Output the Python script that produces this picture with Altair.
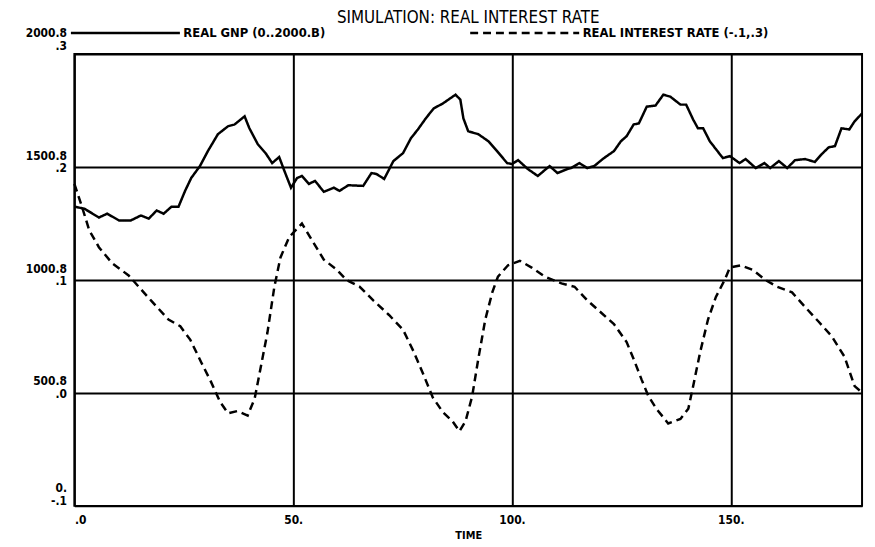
import altair as alt
import pandas as pd

# ---- data ----
gnp_time = [0, 2.3, 5.6, 7.5, 10.2, 12.9, 15.2, 17, 18.8, 20.4, 22.2, 23.8, 25.3, 26.7, 28.7, 30.5,
            32.8, 35.1, 36.6, 38.9, 40, 41.9, 43.7, 45.2, 46.8, 48, 49.5, 50.9, 52, 53.6, 55, 57,
            59.3, 60.6, 62.6, 66, 67.9, 69, 70.8, 72.9, 75.1, 76.9, 78.5, 80.3, 82.1, 84.2, 87.1,
            88.2, 88.9, 90, 92.3, 94.6, 96.6, 98.9, 100, 101.4, 103.6, 105.9, 108.6, 110.4, 112.7,
            113.5, 115.4, 117.2, 118.8, 121, 123.3, 124.9, 126.2, 127.8, 129, 130.8, 132.8, 134.6,
            136.2, 138.5, 139.8, 141.4, 142.5, 143.7, 145.2, 146.6, 148.2, 149.8, 152, 153.4,
            155.7, 157.7, 159, 161, 162.9, 164.7, 167, 169.2, 170.8, 172.4, 173.8, 175.3, 177.1,
            178.3, 180]
gnp_value = [1325, 1316, 1277, 1294, 1264, 1264, 1286, 1272, 1308, 1294, 1325, 1325, 1395, 1452,
             1505, 1571, 1646, 1681, 1689, 1725, 1672, 1602, 1562, 1518, 1545, 1483, 1409, 1452,
             1461, 1426, 1439, 1391, 1409, 1395, 1420, 1417, 1474, 1470, 1448, 1527, 1562, 1628,
             1667, 1716, 1760, 1782, 1821, 1799, 1716, 1659, 1646, 1615, 1571, 1518, 1514, 1531,
             1492, 1461, 1505, 1474, 1492, 1496, 1518, 1496, 1505, 1540, 1571, 1615, 1637, 1689,
             1694, 1768, 1773, 1821, 1812, 1777, 1777, 1711, 1672, 1672, 1615, 1580, 1540, 1549,
             1518, 1536, 1496, 1518, 1496, 1527, 1496, 1531, 1536, 1523, 1558, 1588, 1593, 1672,
             1667, 1703, 1738]

rate_time = [0, 1.8, 3.4, 5.6, 8.6, 12.4, 14.7, 17.7, 21.5, 24.2, 26.5, 29, 31.2, 33.3, 35.1, 37.3,
             39.6, 41.2, 42.5, 44.1, 45.7, 47.1, 49.1, 52, 54.8, 57, 60, 62.2, 65.2, 68.3, 71.9,
             75.1, 77.6, 79.9, 81.9, 84.2, 86.4, 88, 89.4, 90.9, 92.3, 93.9, 95.5, 96.8, 99.1,
             101.8, 104.5, 107.5, 111.3, 114.3, 117.2, 120.4, 123.3, 126.2, 127.8, 129.6, 131.2,
             133, 135.7, 138.5, 140.3, 141.4, 143, 144.8, 146.6, 148.6, 149.8, 152.3, 155, 157.9,
             160.6, 164, 167, 170.1, 173.1, 176, 178.3, 179.5]
rate_value = [0.185, 0.164, 0.144, 0.129, 0.115, 0.104, 0.094, 0.081, 0.065, 0.059, 0.047, 0.027,
              0.010, -0.008, -0.018, -0.016, -0.020, -0.005, 0.021, 0.053, 0.094, 0.120, 0.138,
              0.150, 0.132, 0.118, 0.109, 0.100, 0.094, 0.082, 0.069, 0.056, 0.036, 0.015, -0.004,
              -0.017, -0.025, -0.034, -0.025, -0.003, 0.030, 0.065, 0.089, 0.103, 0.113, 0.117,
              0.111, 0.103, 0.097, 0.094, 0.082, 0.071, 0.061, 0.045, 0.030, 0.012, -0.003,
              -0.014, -0.027, -0.023, -0.014, 0.006, 0.036, 0.065, 0.085, 0.100, 0.111, 0.113,
              0.109, 0.100, 0.094, 0.089, 0.076, 0.063, 0.050, 0.032, 0.006, 0.002]

series_names = ["REAL GNP (0..2000.B)", "REAL INTEREST RATE (-.1,.3)"]
rate_ticks = [-0.1, 0.0, 0.1, 0.2, 0.3]
rate_tick_labels = ["-.1", ".0", ".1", ".2", ".3"]
gnp_tick_labels = ["0.", "500.8", "1000.8", "1500.8", "2000.8"]
time_ticks = [0, 50, 100, 150]
time_tick_labels = [".0", "50.", "100.", "150."]

gnp_df = pd.DataFrame({"t": gnp_time, "v": gnp_value, "s": series_names[0]})
rate_df = pd.DataFrame({"t": rate_time, "v": rate_value, "s": series_names[1]})

FONT = "DejaVu Sans Condensed, DejaVu Sans"

# two-line left-axis labels: GNP scale above, rate scale below
y_label_expr = " : ".join(
    f"abs(datum.value - ({v})) < 0.001 ? ['{g}', '{r}']"
    for v, g, r in zip(rate_ticks, gnp_tick_labels, rate_tick_labels)
) + " : ''"
x_label_expr = " : ".join(
    f"datum.value == {v} ? '{l}'" for v, l in zip(time_ticks, time_tick_labels)
) + " : ''"

x_enc = alt.X(
    "t:Q",
    scale=alt.Scale(domain=[0, 180], nice=False, zero=False),
    axis=alt.Axis(values=time_ticks, labelExpr=x_label_expr, title="TIME",
                  ticks=False, domain=False, grid=True, gridColor="black", gridWidth=2,
                  gridOpacity=1, labelFont=FONT, labelFontSize=12, labelFontWeight="bold",
                  labelColor="black", labelPadding=9, titleFont=FONT, titleFontSize=11,
                  titleFontWeight="bold", titleColor="black", titlePadding=4),
)

dash = alt.StrokeDash(
    "s:N",
    scale=alt.Scale(domain=series_names, range=[[1, 0], [8, 5]]),
    legend=alt.Legend(orient="none", legendX=-5, legendY=-78, direction="horizontal",
                      title=None, symbolType="stroke", symbolSize=12100,
                      symbolStrokeWidth=2.5, symbolStrokeColor="black",
                      labelFont=FONT, labelFontSize=13, labelFontWeight="bold",
                      labelColor="black", labelLimit=0, columnPadding=140, labelOffset=2),
)

gnp_line = alt.Chart(gnp_df).mark_line(color="black", strokeWidth=2.5).encode(
    x=x_enc,
    y=alt.Y("v:Q", scale=alt.Scale(domain=[0, 2000.8], nice=False, zero=False), axis=None),
    strokeDash=dash,
)

rate_line = alt.Chart(rate_df).mark_line(color="black", strokeWidth=2.5).encode(
    x=x_enc,
    y=alt.Y("v:Q", scale=alt.Scale(domain=[-0.1, 0.3], nice=False, zero=False),
            axis=alt.Axis(values=rate_ticks, labelExpr=y_label_expr, title=None,
                          ticks=False, domain=False, grid=True, gridColor="black",
                          gridWidth=2, gridOpacity=1, labelFont=FONT, labelFontSize=12,
                          labelFontWeight="bold", labelColor="black", labelPadding=8,
                          labelBaseline="alphabetic", labelLineHeight=13,
                          labelOffset={"condition": [
                              {"test": "datum.value > 0.25", "value": -18},
                              {"test": "datum.value < -0.05", "value": -14}],
                              "value": -8})),
    strokeDash=dash,
)

chart = (
    alt.layer(rate_line, gnp_line)
    .resolve_scale(y="independent")
    .properties(
        width=795,
        height=456,
        autosize=alt.AutoSizeParams(type="none"),
        padding={"left": 67, "top": 44, "right": 5, "bottom": 39},
        title=alt.TitleParams("SIMULATION: REAL INTEREST RATE", font=FONT, fontSize=17,
                              fontWeight="normal", color="black", anchor="middle",
                              offset=4, dy=55),
        background="white",
    )
    .configure_view(stroke="black", strokeWidth=2)
)

chart.save("out.html", embed_options={"renderer": "svg", "actions": False})
